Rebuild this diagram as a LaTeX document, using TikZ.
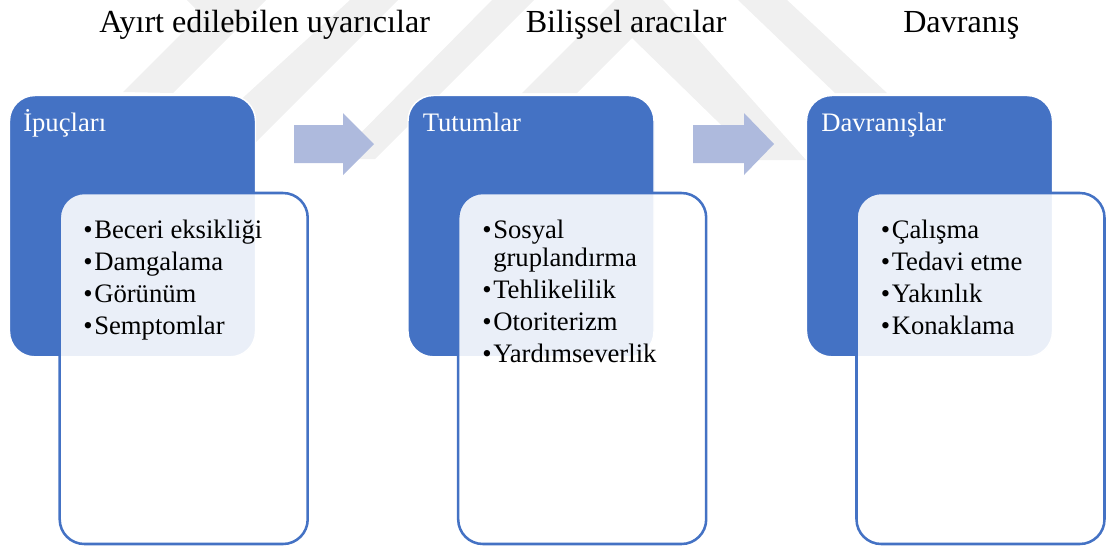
\documentclass[tikz,border=0pt]{standalone}
\usepackage{fontspec}
\setmainfont{Liberation Serif}
\definecolor{mainblue}{HTML}{4472C4}
\definecolor{paleblue}{HTML}{AEBADD}
\definecolor{wm}{HTML}{F0F0F0}
\tikzset{
  x=0.75pt,y=-0.75pt,
  headbox/.style={anchor=north west,rectangle,rounded corners=19pt,fill=mainblue,draw=white,line width=1.1pt,minimum width=184.5pt,minimum height=196pt,inner sep=0pt,outer sep=0pt},
  listbox/.style={anchor=north west,rectangle,rounded corners=18.5pt,fill=white,fill opacity=0.89,draw=mainblue,draw opacity=1,line width=1.9pt,minimum width=186pt,minimum height=263.25pt,inner sep=0pt,outer sep=0pt},
  titletext/.style={anchor=base west,inner sep=0pt,font=\fontsize{24.1}{28}\selectfont,text=black},
  headtext/.style={anchor=base west,inner sep=0pt,font=\fontsize{20}{24}\selectfont,text=white},
  itemtext/.style={anchor=base west,inner sep=0pt,font=\fontsize{20}{24}\selectfont,text=black},
  flowarrow/.style={fill=paleblue,draw=none},
  watermark/.style={fill=wm,draw=none}
}
\begin{document}
\begin{tikzpicture}
\useasboundingbox (0,0) rectangle (1113,547);
% watermark
\fill[watermark] (123,92) -- (201,14) -- (187,0) -- (266,0) -- (173,93) -- cycle;
\fill[watermark] (350,0) -- (398,0) -- (248,150) -- (200,137) -- cycle;
\fill[watermark] (492,0) -- (534,0) -- (375,159) -- (335,159) -- cycle;
\fill[watermark] (522,93) -- (615,0) -- (663,0) -- (806,160) -- (757,160) -- (632,38) -- (577,93) -- cycle;
\fill[watermark] (738,0) -- (787,0) -- (887,93) -- (835,93) -- cycle;
% titles
\node[titletext] (t1) at (99,32) {Ayırt edilebilen uyarıcılar};
\node[titletext] (t2) at (525.5,32) {Bilişsel aracılar};
\node[titletext] (t3) at (903,32) {Davranış};
% arrows
\fill[flowarrow] (294,125) -- (343,125) -- (343,113) -- (374,144) -- (343,175) -- (343,163) -- (294,163) -- cycle;
\fill[flowarrow] (693,125) -- (744,125) -- (744,113) -- (774,144) -- (744,175) -- (744,163) -- (693,163) -- cycle;
% column 1
\node[headbox] (h1) at (9.5,95.5) {};
\node[listbox] (l1) at (59.7,193) {};
\node[headtext] (h1t) at (23,131) {İpuçları};
\node[itemtext] (a1) at (83,238) {•};
\node[itemtext] (a1t) at (94,238) {Beceri eksikliği};
\node[itemtext] (a2) at (83,270) {•};
\node[itemtext] (a2t) at (94,270) {Damgalama};
\node[itemtext] (a3) at (83,302) {•};
\node[itemtext] (a3t) at (94,302) {Görünüm};
\node[itemtext] (a4) at (83,334) {•};
\node[itemtext] (a4t) at (94,334) {Semptomlar};
% column 2
\node[headbox] (h2) at (408,95.5) {};
\node[listbox] (l2) at (458.2,193) {};
\node[headtext] (h2t) at (422.5,131) {Tutumlar};
\node[itemtext] (b1) at (482,238) {•};
\node[itemtext] (b1t) at (493,238) {Sosyal};
\node[itemtext] (b1u) at (493,266) {gruplandırma};
\node[itemtext] (b2) at (482,298) {•};
\node[itemtext] (b2t) at (493,298) {Tehlikelilik};
\node[itemtext] (b3) at (482,330) {•};
\node[itemtext] (b3t) at (493,330) {Otoriterizm};
\node[itemtext] (b4) at (482,362) {•};
\node[itemtext] (b4t) at (493,362) {Yardımseverlik};
% column 3
\node[headbox] (h3) at (806.5,95.5) {};
\node[listbox] (l3) at (856.5,193) {};
\node[headtext] (h3t) at (821,131) {Davranışlar};
\node[itemtext] (c1) at (880.5,238) {•};
\node[itemtext] (c1t) at (891.5,238) {Çalışma};
\node[itemtext] (c2) at (880.5,270) {•};
\node[itemtext] (c2t) at (891.5,270) {Tedavi etme};
\node[itemtext] (c3) at (880.5,302) {•};
\node[itemtext] (c3t) at (891.5,302) {Yakınlık};
\node[itemtext] (c4) at (880.5,334) {•};
\node[itemtext] (c4t) at (891.5,334) {Konaklama};
\end{tikzpicture}
\end{document}
